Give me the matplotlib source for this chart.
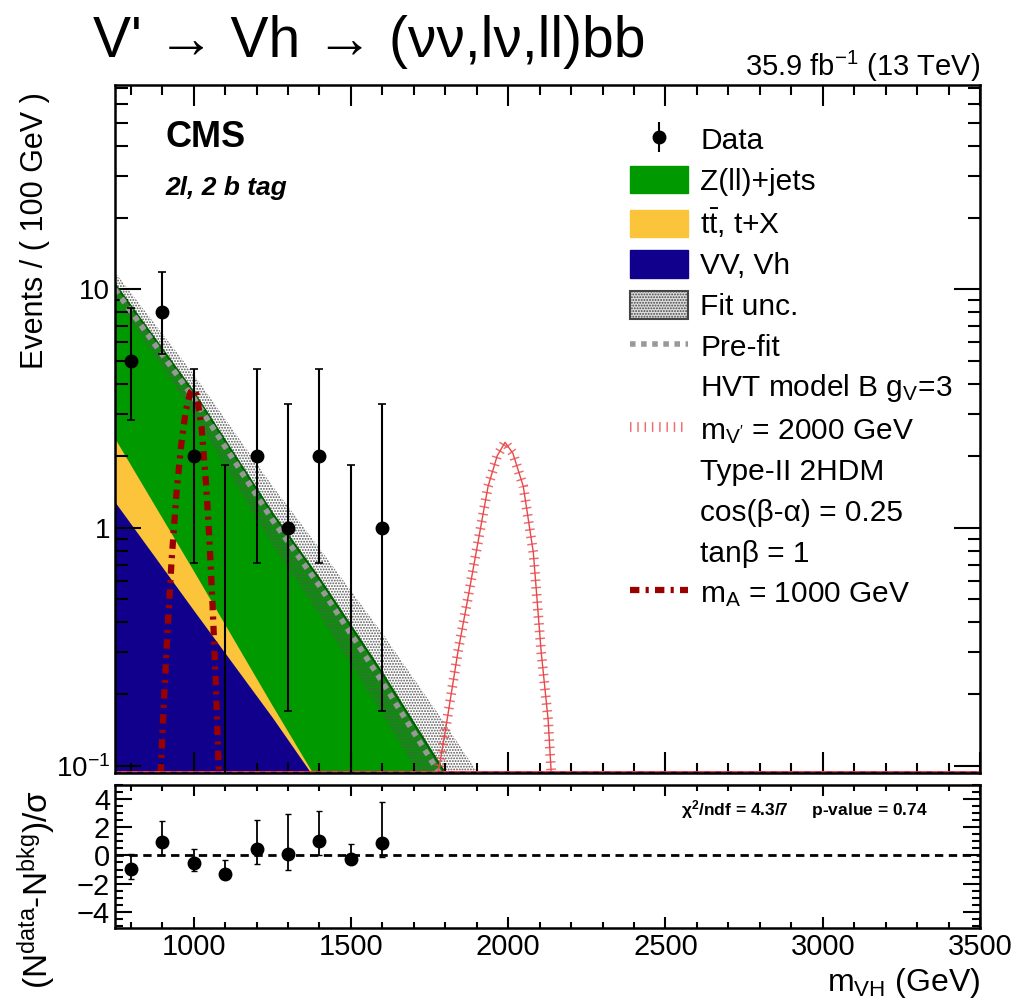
import numpy as np
import matplotlib
matplotlib.use("Agg")
from matplotlib import pyplot as plt
from matplotlib.patches import Patch
from matplotlib.lines import Line2D
from matplotlib.ticker import FixedLocator, FixedFormatter, MultipleLocator

plt.rcParams['font.family'] = ['Liberation Sans', 'DejaVu Sans']
plt.rcParams['mathtext.fontset'] = 'custom'
plt.rcParams['mathtext.rm'] = 'Liberation Sans'
plt.rcParams['mathtext.it'] = 'Liberation Sans:italic'
plt.rcParams['mathtext.bf'] = 'Liberation Sans:bold'
plt.rcParams['mathtext.default'] = 'regular'
plt.rcParams['hatch.linewidth'] = 0.9

# data points (events per 100 GeV) with Poisson intervals
data_x = [800, 900, 1000, 1100, 1200, 1300, 1400, 1500, 1600]
data_n = [5, 8, 2, 0, 2, 1, 2, 0, 1]
data_lo = [2.84, 5.35, 0.71, 0.0, 0.71, 0.17, 0.71, 0.0, 0.17]
data_hi = [8.38, 11.77, 4.64, 1.84, 4.64, 3.30, 4.64, 1.84, 3.30]

# background stack edges
bkg_x = [750, 1000, 1250, 1400, 1600, 1800, 2000]
vv_top = [1.28, 0.45, 0.16, 0.083, 0.035, 0.015, 0.006]
tt_top = [2.37, 0.66, 0.18, 0.084, 0.036, 0.0155, 0.0062]
zll_top = [10.5, 3.7, 1.15, 0.61, 0.245, 0.093, 0.035]
prefit = [10.0, 3.5, 1.08, 0.57, 0.225, 0.085, 0.032]
unc_lo = [9.3, 3.0, 0.85, 0.43, 0.165, 0.06, 0.022]
unc_hi = [11.8, 4.4, 1.5, 0.82, 0.36, 0.15, 0.06]

# signals
hvt_x = [1777, 1800, 1840, 1870, 1898, 1936, 1965, 1990, 2015, 2048, 2080, 2105, 2127, 2137]
hvt_y = [0.093, 0.14, 0.30, 0.49, 0.785, 1.49, 2.0, 2.28, 2.05, 1.49, 0.785, 0.30, 0.156, 0.093]
ma_x = [895, 905, 917, 930, 945, 960, 975, 990, 1000, 1010, 1025, 1040, 1050, 1060, 1070, 1080]
ma_y = [0.093, 0.18, 0.37, 0.73, 1.37, 2.2, 3.1, 3.7, 3.8, 3.6, 2.65, 1.5, 0.9, 0.48, 0.23, 0.095]

# pulls
pull = [-0.93, 0.98, -0.57, -1.29, 0.43, 0.1, 1.05, -0.26, 0.9]
pull_lo = [-1.64, 0.0, -1.1, -1.7, -0.62, -1.0, 0.0, -0.5, -0.1]
pull_hi = [0.1, 2.48, 0.45, -0.29, 2.52, 2.95, 3.17, 0.81, 3.76]

ymin, ymax = 0.0934, 72.0
green = '#009a00'
yellow = '#fcc43a'
navy = '#10008c'
hvt_red = '#e8474a'
ma_red = '#990000'

fig = plt.figure(figsize=(10.14, 10.08), dpi=100)
ax = fig.add_axes([0.1134, 0.2331, 0.8531, 0.6826])
rax = fig.add_axes([0.1134, 0.0794, 0.8531, 0.1418])

ax.set_yscale('log')
ax.fill_between(bkg_x, 1e-4, zll_top, color=green, lw=0)
ax.plot(bkg_x, zll_top, color='#006000', lw=1.5)
ax.fill_between(bkg_x, 1e-4, tt_top, color=yellow, lw=0)
ax.fill_between(bkg_x, 1e-4, vv_top, color=navy, lw=0)
ax.fill_between(bkg_x, unc_lo, unc_hi, facecolor='none', edgecolor='#555555',
                hatch='......', lw=0)
ax.plot(bkg_x, prefit, color='#999999', lw=4, ls=(0, (1.0, 1.0)))

ax.plot(hvt_x, hvt_y, color=hvt_red, lw=1)
ax.plot(hvt_x, hvt_y, color=hvt_red, lw=7, ls=(0, (0.15, 0.6)), alpha=0.8)
ax.plot(ma_x, ma_y, color=ma_red, lw=4.5, ls=(0, (1.5, 1.0, 0.5, 1.0)))

ax.axhline(ymin * 1.01, color=hvt_red, lw=1.5)
ax.axhline(ymin * 1.01, color=navy, lw=1, ls=(0, (4, 4)))

lo = np.maximum(data_lo, ymin * 0.5)
hi = np.array(data_hi)
ax.errorbar(data_x, hi, yerr=[hi - lo, np.zeros_like(hi)], fmt='none',
            ecolor='black', elinewidth=1.5, capsize=3, capthick=1.2)
nz = [i for i, n in enumerate(data_n) if n > 0]
ax.plot([data_x[i] for i in nz], [data_n[i] for i in nz], 'o', color='black', ms=9)

ax.set_xlim(750, 3500)
ax.set_ylim(ymin, ymax)
ax.yaxis.set_major_locator(FixedLocator([0.1, 1, 10]))
ax.yaxis.set_major_formatter(FixedFormatter(['10$^{-1}$', '1', '10']))
ax.xaxis.set_major_locator(MultipleLocator(500))
ax.xaxis.set_minor_locator(MultipleLocator(100))
ax.tick_params(axis='both', which='both', direction='in', top=True, right=True,
               labelsize=20, width=1.5)
ax.tick_params(axis='y', which='major', length=19)
ax.tick_params(axis='y', which='minor', length=9)
ax.tick_params(axis='x', which='major', length=15)
ax.tick_params(axis='x', which='minor', length=7)
ax.tick_params(axis='x', labelbottom=False)
for s in ax.spines.values():
    s.set_linewidth(1.8)
ax.set_ylabel('Events / ( 100 GeV )', fontsize=22, loc='top')
ax.yaxis.set_label_coords(-0.075, 0.99)

ax.text(0.058, 0.923, 'CMS', transform=ax.transAxes, fontsize=26, fontweight='bold',
        va='center')
ax.text(0.058, 0.85, '2l, 2 b tag', transform=ax.transAxes, fontsize=19,
        fontweight='bold', style='italic', va='center')

data_handle = ax.errorbar([], [], yerr=[], fmt='o', color='black', ms=9,
                          elinewidth=1.5)
handles = [
    data_handle,
    Patch(facecolor=green, edgecolor=green),
    Patch(facecolor=yellow, edgecolor=yellow),
    Patch(facecolor=navy, edgecolor=navy),
    Patch(facecolor='#dddddd', edgecolor='#444444', hatch='......', lw=1.5),
    Line2D([], [], color='#999999', lw=4, ls=(0, (1.0, 1.0))),
    Line2D([], [], alpha=0),
    Line2D([], [], color=hvt_red, lw=7, ls=(0, (0.15, 0.6)), alpha=0.8),
    Line2D([], [], alpha=0),
    Line2D([], [], alpha=0),
    Line2D([], [], alpha=0),
    Line2D([], [], color=ma_red, lw=4.5, ls=(0, (1.5, 1.0, 0.5, 1.0))),
]
labels = [
    'Data', 'Z(ll)+jets', r't$\bar{\mathrm{t}}$, t+X', 'VV, Vh', 'Fit unc.',
    'Pre-fit', 'HVT model B g$_{V}$=3', "m$_{V'}$ = 2000 GeV", 'Type-II 2HDM',
    'cos(β-α) = 0.25', 'tanβ = 1', 'm$_{A}$ = 1000 GeV',
]
leg = ax.legend(handles, labels, loc='upper left', bbox_to_anchor=(0.595, 0.942),
                frameon=False, fontsize=21.5, handlelength=1.95, handleheight=1.05,
                labelspacing=0.355, handletextpad=0.42, borderpad=0,
                borderaxespad=0)

# pull panel
rax.errorbar(data_x, pull, yerr=[np.array(pull) - np.array(pull_lo),
                                 np.array(pull_hi) - np.array(pull)],
             fmt='o', color='black', ms=9, elinewidth=1.3, capsize=2.5)
rax.axhline(0, color='black', lw=2, ls=(0, (3, 2)))
rax.set_xlim(750, 3500)
rax.set_ylim(-5.15, 5.0)
rax.yaxis.set_major_locator(MultipleLocator(2))
rax.yaxis.set_minor_locator(MultipleLocator(0.5))
rax.xaxis.set_major_locator(MultipleLocator(500))
rax.xaxis.set_minor_locator(MultipleLocator(100))
rax.tick_params(axis='both', which='both', direction='in', top=True, right=True,
                labelsize=21, width=1.5)
rax.tick_params(axis='y', which='major', length=12)
rax.tick_params(axis='y', which='minor', length=6)
rax.tick_params(axis='x', which='major', length=8)
rax.tick_params(axis='x', which='minor', length=4)
for s in rax.spines.values():
    s.set_linewidth(1.8)
rax.set_ylabel('(N$^{data}$-N$^{bkg}$)/σ', fontsize=24)
rax.yaxis.set_label_coords(-0.066, 0.27)
rax.set_xlabel('m$_{VH}$ (GeV)', fontsize=23, loc='right')
rax.text(0.94, 0.83, 'χ$^{2}$/ndf = 4.3/7     p-value = 0.74', transform=rax.transAxes,
         fontsize=12.5, fontweight='bold', ha='right', va='center')

fig.text(0.092, 0.958, "V' → Vh → (νν,lν,ll)bb", fontsize=41, va='center')
fig.text(0.9665, 0.934, '35.9 fb$^{-1}$ (13 TeV)', fontsize=21, ha='right', va='center')

fig.savefig('out.png', dpi=100)
